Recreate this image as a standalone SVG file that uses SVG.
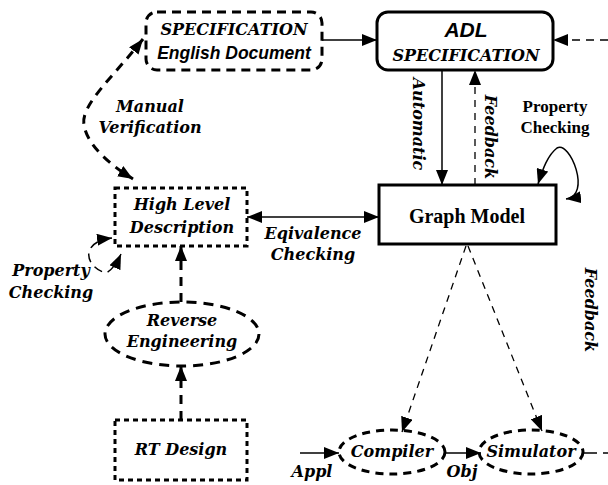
<svg xmlns="http://www.w3.org/2000/svg" width="608" height="485" viewBox="0 0 608 485">
<style>
.si{font-family:"DejaVu Serif",serif;font-weight:bold;font-style:italic;font-size:16px;fill:#000}
.sb{font-family:"Liberation Serif",serif;font-weight:bold;fill:#000}
.ss{font-family:"Liberation Sans",Arial,sans-serif;font-weight:bold;font-style:italic;fill:#000}
.ln{fill:none;stroke:#000}
</style>
<defs>
<marker id="ah" markerUnits="userSpaceOnUse" markerWidth="16" markerHeight="12" refX="15" refY="6" orient="auto-start-reverse"><path d="M0,0 L15,6 L0,12 Z" fill="#000"/></marker>
<marker id="ahs" markerUnits="userSpaceOnUse" markerWidth="14" markerHeight="10" refX="13" refY="5" orient="auto-start-reverse"><path d="M0,0 L13,5 L0,10 Z" fill="#000"/></marker>
</defs>
<g id="spec-doc">
<rect x="146" y="12" width="176" height="58" rx="11" class="ln" stroke-width="3" stroke-dasharray="9,6"/>
<text x="234" y="35" text-anchor="middle" class="si">SPECIFICATION</text>
<text x="234" y="59" text-anchor="middle" class="ss" font-size="17.5">English Document</text>
</g>
<g id="adl">
<rect x="377" y="12" width="176" height="58" rx="11" class="ln" stroke-width="3"/>
<text x="466" y="37" text-anchor="middle" class="ss" font-size="21">ADL</text>
<text x="466" y="61" text-anchor="middle" class="si">SPECIFICATION</text>
</g>
<g id="graph-model">
<rect x="379" y="185" width="177" height="59" class="ln" stroke-width="3"/>
<text x="467" y="223" text-anchor="middle" class="sb" font-size="20">Graph Model</text>
</g>
<g id="hld">
<rect x="115" y="188" width="132" height="58" class="ln" stroke-width="3" stroke-dasharray="5,4"/>
<text x="182" y="210" text-anchor="middle" class="si">High Level</text>
<text x="182" y="233" text-anchor="middle" class="si">Description</text>
</g>
<g id="reverse-eng">
<ellipse cx="182" cy="334" rx="77" ry="32" class="ln" stroke-width="3" stroke-dasharray="10,7"/>
<text x="182" y="326" text-anchor="middle" class="si">Reverse</text>
<text x="182" y="347" text-anchor="middle" class="si">Engineering</text>
</g>
<g id="rt-design">
<rect x="115" y="420" width="132" height="60" class="ln" stroke-width="3" stroke-dasharray="5,4"/>
<text x="181" y="455" text-anchor="middle" class="si">RT Design</text>
</g>
<g id="compiler">
<ellipse cx="392" cy="452" rx="53" ry="22" class="ln" stroke-width="3" stroke-dasharray="8,6"/>
<text x="392" y="457" text-anchor="middle" class="si" font-size="15">Compiler</text>
</g>
<g id="simulator">
<ellipse cx="531" cy="452" rx="52" ry="22" class="ln" stroke-width="3" stroke-dasharray="8,6"/>
<text x="531" y="457" text-anchor="middle" class="si" font-size="15">Simulator</text>
</g>
<g id="connectors">
<line x1="322" y1="40" x2="377" y2="40" class="ln" stroke-width="1.5" marker-end="url(#ah)"/>
<line x1="608" y1="40" x2="553" y2="40" class="ln" stroke-width="1.5" stroke-dasharray="8,6" marker-end="url(#ah)"/>
<line x1="442" y1="70" x2="442" y2="185" class="ln" stroke-width="1.5" marker-end="url(#ah)"/>
<line x1="475" y1="185" x2="475" y2="70" class="ln" stroke-width="1.3" stroke-dasharray="7,6" marker-end="url(#ah)"/>
<path d="M566,199 C592,196 570,140 557,148 C548,155 543,168 538,184" class="ln" stroke-width="1.5" marker-start="url(#ah)" marker-end="url(#ah)"/>
<line x1="247" y1="217" x2="379" y2="217" class="ln" stroke-width="1.5" marker-start="url(#ah)" marker-end="url(#ah)"/>
<path d="M143,39 C115,75 80,105 84,125 C87,145 110,165 133,179" class="ln" stroke-width="3" stroke-dasharray="9,7" marker-start="url(#ah)" marker-end="url(#ah)"/>
<path d="M112,238 C78,242 86,268 106,273 C112,270 117,263 121,254" class="ln" stroke-width="1.5" stroke-dasharray="9,6" marker-start="url(#ah)" marker-end="url(#ah)"/>
<line x1="181" y1="302" x2="181" y2="246" class="ln" stroke-width="3" stroke-dasharray="9,7" marker-end="url(#ah)"/>
<line x1="181" y1="420" x2="181" y2="366" class="ln" stroke-width="3" stroke-dasharray="9,7" marker-end="url(#ah)"/>
<line x1="466" y1="246" x2="402" y2="432" class="ln" stroke-width="1.3" stroke-dasharray="7,6" marker-end="url(#ah)"/>
<line x1="468" y1="246" x2="542" y2="431" class="ln" stroke-width="1.3" stroke-dasharray="7,6" marker-end="url(#ah)"/>
<line x1="300" y1="453" x2="339" y2="453" class="ln" stroke-width="1.5" marker-end="url(#ah)"/>
<line x1="445" y1="453" x2="481" y2="453" class="ln" stroke-width="1.5" marker-end="url(#ah)"/>
<line x1="583" y1="453" x2="597" y2="453" class="ln" stroke-width="1.5"/>
<line x1="603" y1="453" x2="608" y2="453" class="ln" stroke-width="1.5"/>
</g>
<g id="labels">
<text x="150" y="112" text-anchor="middle" class="si">Manual</text>
<text x="150" y="133" text-anchor="middle" class="si">Verification</text>
<text x="413" y="124" text-anchor="middle" class="si" transform="rotate(90 413 124)">Automatic</text>
<text x="485" y="137" text-anchor="middle" class="si" transform="rotate(90 485 137)">Feedback</text>
<text x="555" y="112" text-anchor="middle" class="sb" font-size="17">Property</text>
<text x="555" y="133" text-anchor="middle" class="sb" font-size="17">Checking</text>
<text x="313" y="239" text-anchor="middle" class="si">Eqivalence</text>
<text x="313" y="260" text-anchor="middle" class="si">Checking</text>
<text x="51" y="276" text-anchor="middle" class="si">Property</text>
<text x="51" y="298" text-anchor="middle" class="si">Checking</text>
<text x="585" y="310" text-anchor="middle" class="si" transform="rotate(90 585 310)">Feedback</text>
<text x="312" y="477" text-anchor="middle" class="si" font-size="15">Appl</text>
<text x="462" y="477" text-anchor="middle" class="si" font-size="15">Obj</text>
</g>
</svg>
